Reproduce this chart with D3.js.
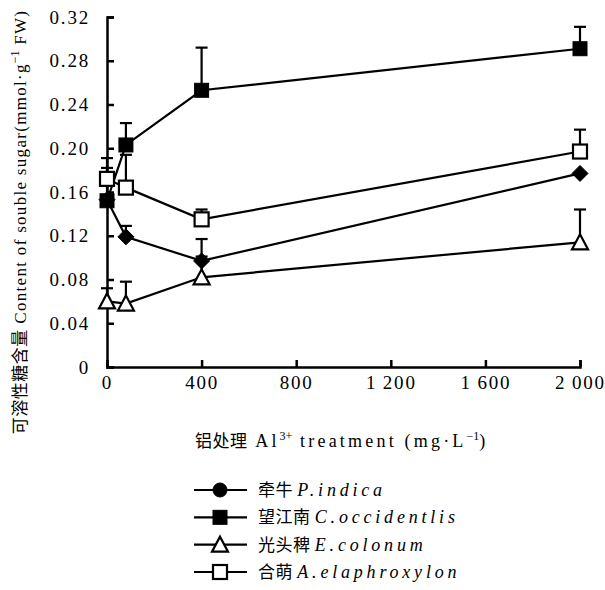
<!DOCTYPE html>
<html>
<head>
<meta charset="utf-8">
<script src="https://cdn.jsdelivr.net/npm/d3@7"></script>
<style>
  body { margin: 0; background: #fff; }
  text { font-family: "Liberation Serif", "Noto Sans CJK SC", serif; fill: #000; }
</style>
</head>
<body>
<script>
var width = 605;
var height = 590;

// data
var conc = [0, 80, 400, 2000];
var indica = [0.153, 0.119, 0.097, 0.177];
var indicaErr = [0, 0.01, 0.02, 0];
var occid = [0.152, 0.203, 0.253, 0.291];
var occidErr = [0.03, 0.02, 0.039, 0.02];
var colonum = [0.060, 0.058, 0.082, 0.114];
var colonumErr = [0.012, 0.02, 0.019, 0.03];
var elaph = [0.172, 0.164, 0.135, 0.197];
var elaphErr = [0.019, 0.03, 0.009, 0.02];
var xTicks = [0, 400, 800, 1200, 1600, 2000];
var yTicks = [0, 0.04, 0.08, 0.12, 0.16, 0.20, 0.24, 0.28, 0.32];
var legendNames = ["牵牛", "望江南", "光头稗", "合萌"];
var legendLatin = ["P.indica", "C.occidentlis", "E.colonum", "A.elaphroxylon"];

var series = [
    {name: "colonum", values: colonum, err: colonumErr, shape: "triangle", filled: false},
    {name: "indica", values: indica, err: indicaErr, shape: "diamond", filled: true},
    {name: "elaph", values: elaph, err: elaphErr, shape: "square", filled: false},
    {name: "occid", values: occid, err: occidErr, shape: "square", filled: true}
];

var x = d3.scaleLinear().domain([0, 2000]).range([107, 580]);
var y = d3.scaleLinear().domain([0, 0.32]).range([367, 17]);

var svg = d3.select("body").append("svg")
    .attr("width", width)
    .attr("height", height);

//axes, ticks pointing inward
var yAxis = d3.axisLeft(y).tickValues(yTicks).tickSize(-7).tickPadding(17)
    .tickFormat(function(d){ return d === 0 ? "0" : d3.format(".2f")(d); });
var xAxis = d3.axisBottom(x).tickValues(xTicks).tickSize(-7).tickPadding(9)
    .tickFormat(function(d){ return d >= 1000 ? Math.floor(d/1000) + "\u2009" + d3.format("03d")(d % 1000) : d; });

var gy = svg.append("g")
    .attr("transform", "translate(" + x(0) + ",0)")
    .call(yAxis);
var gx = svg.append("g")
    .attr("transform", "translate(0," + y(0) + ")")
    .call(xAxis);

[gx, gy].forEach(function(g){
    g.select(".domain").attr("stroke", "#000").attr("stroke-width", 2.5);
    g.selectAll(".tick line").attr("stroke", "#000").attr("stroke-width", 2.5);
    g.selectAll(".tick text")
        .attr("font-family", "Liberation Serif")
        .attr("font-size", 19)
        .attr("letter-spacing", 1.8)
        .attr("fill", "#000");
});

//marker drawing
function drawMarker(g, shape, filled, cx, cy) {
    var p;
    if (shape === "square") {
        p = g.append("rect").attr("x", cx - 7).attr("y", cy - 7).attr("width", 14).attr("height", 14);
    } else if (shape === "diamond") {
        p = g.append("path").attr("d", "M" + cx + "," + (cy - 8) + "L" + (cx + 8) + "," + cy + "L" + cx + "," + (cy + 8) + "L" + (cx - 8) + "," + cy + "Z");
    } else if (shape === "triangle") {
        p = g.append("path").attr("d", "M" + cx + "," + (cy - 8) + "L" + (cx + 8) + "," + (cy + 7) + "L" + (cx - 8) + "," + (cy + 7) + "Z");
    } else {
        p = g.append("circle").attr("cx", cx).attr("cy", cy).attr("r", 7);
    }
    p.attr("fill", filled ? "#000" : "#fff")
        .attr("stroke", "#000")
        .attr("stroke-width", filled ? 1 : 2.2);
}

var line = d3.line()
    .x(function(d, i){ return x(conc[i]); })
    .y(function(d){ return y(d); });

var plot = svg.append("g");

series.forEach(function(s){
    plot.append("path")
        .attr("d", line(s.values))
        .attr("fill", "none")
        .attr("stroke", "#000")
        .attr("stroke-width", 2.2);
});

// error bars (upward only)
series.forEach(function(s){
    s.values.forEach(function(v, i){
        if (!s.err[i]) return;
        var cx = x(conc[i]);
        plot.append("line")
            .attr("x1", cx).attr("x2", cx)
            .attr("y1", y(v)).attr("y2", y(v + s.err[i]))
            .attr("stroke", "#000").attr("stroke-width", 2.2);
        plot.append("line")
            .attr("x1", cx - 6).attr("x2", cx + 6)
            .attr("y1", y(v + s.err[i])).attr("y2", y(v + s.err[i]))
            .attr("stroke", "#000").attr("stroke-width", 2.2);
    });
});

series.forEach(function(s){
    s.values.forEach(function(v, i){
        drawMarker(plot, s.shape, s.filled, x(conc[i]), y(v));
    });
});

//y axis title
var yt = svg.append("text")
    .attr("transform", "translate(26,222) rotate(-90)")
    .attr("text-anchor", "middle")
    .attr("font-size", 17)
    .attr("fill", "#000");
yt.append("tspan").attr("font-family", "Noto Sans CJK SC").attr("letter-spacing", 0.5).text("可溶性糖含量");
yt.append("tspan").attr("letter-spacing", 1.3).text(" Content of souble sugar(mmol·g");
yt.append("tspan").attr("baseline-shift", "super").attr("font-size", 12).text("\u22121");
yt.append("tspan").attr("letter-spacing", 1.3).text("  FW)");

//x axis title
var xt = svg.append("text")
    .attr("x", 195).attr("y", 447)
    .attr("font-size", 18)
    .attr("fill", "#000");
xt.append("tspan").attr("font-family", "Noto Sans CJK SC").attr("font-size", 17).attr("letter-spacing", 0.5).text("铝处理");
xt.append("tspan").attr("letter-spacing", 3.2).text(" Al");
xt.append("tspan").attr("baseline-shift", "super").attr("font-size", 12).text("3+");
xt.append("tspan").attr("baseline-shift", "0").attr("letter-spacing", 3.2).text(" treatment (mg·L");
xt.append("tspan").attr("baseline-shift", "super").attr("font-size", 12).text("\u22121");
xt.append("tspan").attr("baseline-shift", "0").text(")");

//legend
var legendShapes = [["circle", true], ["square", true], ["triangle", false], ["square", false]];
var legendY = d3.scalePoint().domain(d3.range(4)).range([490, 572]);
legendNames.forEach(function(n, i){
    var ly = legendY(i);
    var g = svg.append("g");
    g.append("line").attr("x1", 194).attr("x2", 247).attr("y1", ly).attr("y2", ly)
        .attr("stroke", "#000").attr("stroke-width", 2.2);
    drawMarker(g, legendShapes[i][0], legendShapes[i][1], 220, ly);
    var t = g.append("text").attr("x", 258).attr("y", ly + 6).attr("font-size", 17).attr("fill", "#000");
    t.append("tspan").attr("font-family", "Noto Sans CJK SC").attr("letter-spacing", 0.5).text(n + " ");
    t.append("tspan").attr("font-style", "italic").attr("font-size", 18).attr("letter-spacing", 3.8).text(legendLatin[i]);
});
</script>
</body>
</html>
